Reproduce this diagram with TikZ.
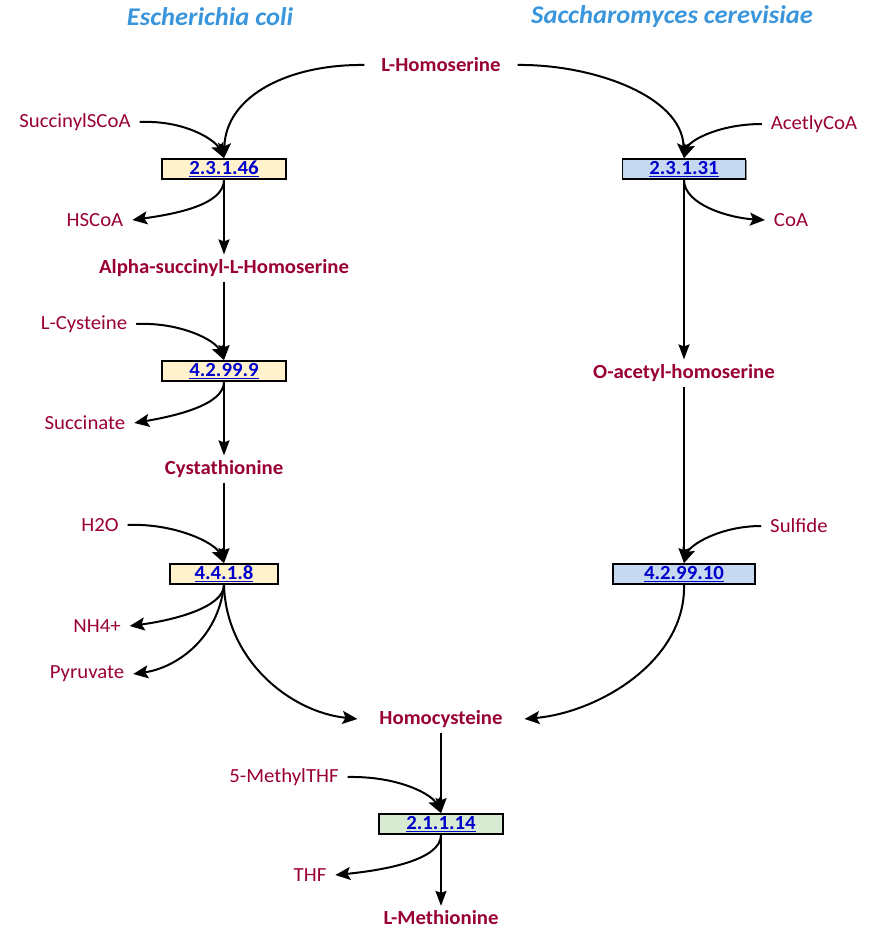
\documentclass[tikz,border=0pt]{standalone}
\usepackage{fontspec}
\setmainfont{Carlito}[FakeStretch=1.04]
\usetikzlibrary{arrows.meta,shadows}
\definecolor{metabred}{HTML}{990033}
\definecolor{ecblue}{HTML}{0000CC}
\definecolor{orgblue}{HTML}{3A96DC}
\definecolor{ecoli}{HTML}{FFF2CC}
\definecolor{yeast}{HTML}{C6D9F1}
\definecolor{shared}{HTML}{D9EAD3}
\begin{document}
\begin{tikzpicture}[x=1pt,y=-1pt,
  lbl/.style={text=metabred, font=\fontsize{20}{22}\selectfont, inner sep=0pt, outer xsep=9pt, outer ysep=5pt},
  mainlbl/.style={lbl, font=\bfseries\fontsize{20}{22}\selectfont},
  org/.style={text=orgblue, font=\bfseries\itshape\fontsize{25.5}{27}\selectfont, inner sep=0pt},
  enz/.style={draw=black, line width=1.7pt, minimum height=20pt, inner sep=0pt,
    text=ecblue, font=\bfseries\fontsize{20}{22}\selectfont,
    drop shadow={shadow xshift=1.2pt, shadow yshift=-1.2pt, fill=black!45, opacity=1}},
  curv/.style={line width=2pt, -{Stealth[length=15pt,width=13pt,inset=3pt]}},
  strt/.style={line width=1.7pt, -{Stealth[length=15pt,width=11pt,inset=2pt]}}]
\useasboundingbox (0,0) rectangle (873,931);

% organism headings
\node[org] (ecoliT) at (210,17) {Escherichia coli};
\node[org] (yeastT) at (672,17) {Saccharomyces cerevisiae};

% main metabolites
\node[mainlbl, outer xsep=17pt] (hser) at (441,65) {L-Homoserine};
\node[mainlbl] (ash) at (224,268) {Alpha-succinyl-L-Homoserine};
\node[mainlbl] (cth) at (224,469) {Cystathionine};
\node[mainlbl] (oah) at (684,373) {O-acetyl-homoserine};
\node[mainlbl, outer xsep=22pt] (hcy) at (441,719) {Homocysteine};
\node[mainlbl] (met) at (441,918) {L-Methionine};

% enzymes
\node[enz, fill=ecoli, minimum width=124pt] (e1) at (224,169) {\underline{2.3.1.46}};
\node[enz, fill=ecoli, minimum width=124pt] (e2) at (224,371) {\underline{4.2.99.9}};
\node[enz, fill=ecoli, minimum width=108pt] (e3) at (224,574) {\underline{4.4.1.8}};
\node[enz, fill=yeast, minimum width=123pt] (y1) at (684,169) {\underline{2.3.1.31}};
\node[enz, fill=yeast, minimum width=142pt] (y2) at (684,574) {\underline{4.2.99.10}};
\node[enz, fill=shared, minimum width=124pt] (ms) at (441,824) {\underline{2.1.1.14}};

% side compounds
\node[lbl] (sucoa) at (75,122) {SuccinylSCoA};
\node[lbl] (hscoa) at (95,220) {HSCoA};
\node[lbl] (cys) at (84,324) {L-Cysteine};
\node[lbl] (succ) at (85,423) {Succinate};
\node[lbl] (h2o) at (100,525) {H2O};
\node[lbl] (nh4) at (97,626) {NH4+};
\node[lbl] (pyr) at (87,674) {Pyruvate};
\node[lbl] (accoa) at (814,124) {AcetlyCoA};
\node[lbl] (coa) at (791,220) {CoA};
\node[lbl] (sulf) at (799,526) {Sulfide};
\node[lbl] (mthf) at (284,777) {5-MethylTHF};
\node[lbl] (thf) at (310,875) {THF};

% E. coli branch
\draw[curv] (hser.west) .. controls (290,64) and (226,95) .. (e1.north);
\draw[curv] (sucoa.east) .. controls (185,120) and (215,140) .. (e1.north);
\draw[curv] (e1.south) .. controls (224,205) and (175,214) .. (hscoa.east);
\draw[strt] (e1.south) -- (ash.north);

\draw[strt] (ash.south) -- (e2.north);
\draw[curv] (cys.east) .. controls (180,322) and (215,340) .. (e2.north);
\draw[curv] (e2.south) .. controls (224,405) and (175,416) .. (succ.east);
\draw[strt] (e2.south) -- (cth.north);

\draw[strt] (cth.south) -- (e3.north);
\draw[curv] (h2o.east) .. controls (175,523) and (215,543) .. (e3.north);
\draw[curv] (e3.south) .. controls (224,607) and (175,620) .. (nh4.east);
\draw[curv] (e3.south) .. controls (218,640) and (175,668) .. (pyr.east);
\draw[curv] (e3.south) .. controls (226,660) and (290,712) .. (hcy.west);

% S. cerevisiae branch
\draw[curv] (hser.east) .. controls (590,64) and (682,95) .. (y1.north);
\draw[curv] (accoa.west) .. controls (720,124) and (690,140) .. (y1.north);
\draw[curv] (y1.south) .. controls (684,205) and (730,218) .. (coa.west);
\draw[strt] (y1.south) -- (oah.north);
\draw[strt] (oah.south) -- (y2.north);
\draw[curv] (sulf.west) .. controls (720,526) and (690,545) .. (y2.north);
\draw[curv] (y2.south) .. controls (686,660) and (600,712) .. (hcy.east);

% common final step
\draw[strt] (hcy.south) -- (ms.north);
\draw[curv] (mthf.east) .. controls (400,776) and (432,795) .. (ms.north);
\draw[curv] (ms.south) .. controls (441,860) and (385,870) .. (thf.east);
\draw[strt] (ms.south) -- (met.north);
\end{tikzpicture}
\end{document}
